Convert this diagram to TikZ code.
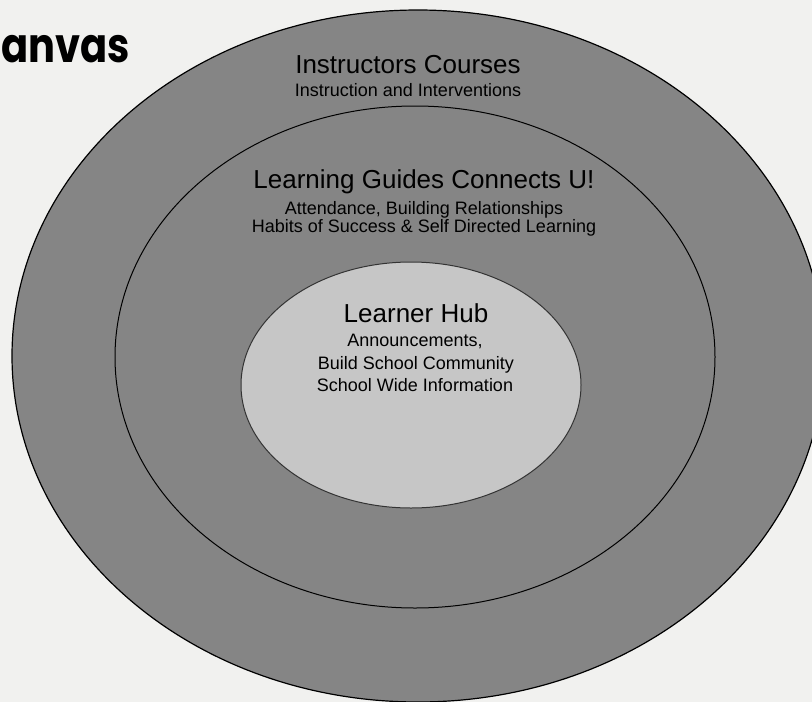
\documentclass[tikz,border=0pt]{standalone}
\usepackage{fontspec}
\setmainfont{Liberation Sans}
\newfontfamily\titlefont{Poppins}
\definecolor{paper}{HTML}{F1F1EF}
\definecolor{ringgray}{HTML}{858585}
\definecolor{hubgray}{HTML}{C6C6C6}
\tikzset{
  ring/.style={draw=black, line width=1.2pt, fill=ringgray},
  head/.style={anchor=base, inner sep=0pt, font=\fontsize{26}{26}\selectfont},
  sub/.style={anchor=base, inner sep=0pt, font=\fontsize{18}{18}\selectfont}
}
\begin{document}
\begin{tikzpicture}[x=1pt, y=-1pt]
\useasboundingbox (0,0) rectangle (812,702);
\fill [paper] (0,0) rectangle (812,702);
\clip (0,0) rectangle (812,702);
\draw [ring] (418,356) ellipse [x radius=406, y radius=346];
\draw [ring, line width=1pt] (415,357) ellipse [x radius=300, y radius=251];
\draw [draw=black!80, line width=1pt, fill=hubgray] (411,385) ellipse [x radius=170, y radius=123];
\node [anchor=base west, inner sep=0pt, font=\titlefont\bfseries\fontsize{40}{40}\selectfont, yscale=1.2] (canvas) at (1,62) {anvas};
\node [head] (instr) at (408,73) {Instructors Courses};
\node [sub] (instrsub) at (408,96) {Instruction and Interventions};
\node [head] (guides) at (424,188) {Learning Guides Connects U!};
\node [sub] (attend) at (424,214) {Attendance, Building Relationships};
\node [sub] (habits) at (424,232) {Habits of Success \& Self Directed Learning};
\node [head] (hub) at (416,322) {Learner Hub};
\node [sub] (announce) at (415,346) {Announcements,};
\node [sub] (community) at (416,369) {Build School Community};
\node [sub] (info) at (415,391) {School Wide Information};
\end{tikzpicture}
\end{document}
